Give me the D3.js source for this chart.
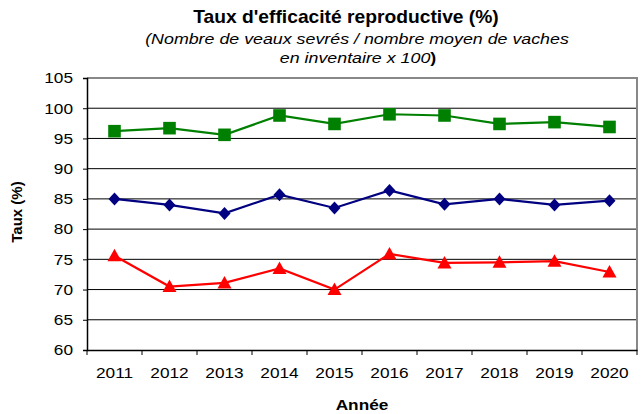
<!DOCTYPE html>
<html>
<head>
<meta charset="utf-8">
<script src="https://cdn.jsdelivr.net/npm/d3@7"></script>
<style>
  body { margin: 0; background: #fff; }
  text { font-family: "Liberation Sans", Arial, sans-serif; }
</style>
</head>
<body>
<script>
const years = ['2011', '2012', '2013', '2014', '2015', '2016', '2017', '2018', '2019', '2020'];
const greenValues = [96.2, 96.7, 95.6, 98.8, 97.4, 99.0, 98.8, 97.4, 97.7, 96.9];
const blueValues = [85.0, 84.0, 82.6, 85.7, 83.5, 86.4, 84.1, 85.0, 84.0, 84.7];
const redValues = [75.6, 70.5, 71.1, 73.5, 70.0, 75.9, 74.4, 74.5, 74.7, 72.9];
const yTicks = [60, 65, 70, 75, 80, 85, 90, 95, 100, 105];

const margin = { top: 78, right: 5, bottom: 64, left: 87 };
const outerWidth = 642;
const outerHeight = 414;
const innerWidth = outerWidth - margin.left - margin.right;
const innerHeight = outerHeight - margin.top - margin.bottom;
const stretch = 1.15; // the original text is a bit wider than plain Arial

// marker shapes (square, flat diamond, triangle)
const squareShape = { draw(ctx) { ctx.rect(-6.3, -6.3, 12.6, 12.6); } };
const diamondShape = { draw(ctx) {
  ctx.moveTo(0, -6.5); ctx.lineTo(6, 0); ctx.lineTo(0, 6.5); ctx.lineTo(-6, 0); ctx.closePath();
} };
const triangleShape = { draw(ctx) {
  ctx.moveTo(0, -7); ctx.lineTo(7, 5.5); ctx.lineTo(-7, 5.5); ctx.closePath();
} };

const series = [
  { values: greenValues, color: '#008000', shape: squareShape },
  { values: blueValues, color: '#000080', shape: diamondShape },
  { values: redValues, color: '#ff0000', shape: triangleShape }
];

const svg = d3.select('body').append('svg')
    .attr('width', outerWidth)
    .attr('height', outerHeight);

// titles
svg.append('text')
    .attr('transform', 'translate(346,23) scale(1.1,1)')
    .attr('text-anchor', 'middle')
    .style('font-size', '17.5px').style('font-weight', 'bold')
    .text("Taux d'efficacité reproductive (%)");
svg.append('text')
    .attr('transform', `translate(357,44) scale(${stretch},1)`)
    .attr('text-anchor', 'middle')
    .style('font-size', '15.5px').style('font-style', 'italic')
    .text('(Nombre de veaux sevrés / nombre moyen de vaches');
const sub2 = svg.append('text')
    .attr('transform', `translate(358,63) scale(${stretch},1)`)
    .attr('text-anchor', 'middle')
    .style('font-size', '15.5px');
sub2.append('tspan').style('font-style', 'italic').text('en inventaire x 100');
sub2.append('tspan').style('font-weight', 'bold').text(')');

const g = svg.append('g')
    .attr('transform', `translate(${margin.left},${margin.top})`);

// scales
const xScale = d3.scaleBand()
    .domain(years)
    .range([0, innerWidth]);
const yScale = d3.scaleLinear()
    .domain([60, 105])
    .range([innerHeight, 0]);

// grid lines
g.selectAll('.grid')
    .data(yTicks.filter(t => t > 60 && t < 105))
    .enter()
  .append('line')
    .attr('class', 'grid')
    .attr('x1', 0).attr('x2', innerWidth)
    .attr('y1', d => yScale(d)).attr('y2', d => yScale(d))
    .attr('stroke', '#000')
    .attr('stroke-width', 1);

// gray border top/right
g.append('path')
    .attr('d', `M0,${yScale(105)}H${innerWidth}V${innerHeight}`)
    .attr('fill', 'none')
    .attr('stroke', '#888')
    .attr('stroke-width', 2);

// y axis
const yAxis = d3.axisLeft(yScale)
    .tickValues(yTicks)
    .tickSize(4);
g.append('g')
    .call(yAxis)
    .call(a => a.selectAll('text')
      .style('font-size', '15px').attr('fill', '#000')
      .attr('x', -14 / stretch)
      .attr('transform', `scale(${stretch},1)`))
    .call(a => a.select('.domain').attr('stroke-width', 1.5));

// x axis, ticks at band edges
const xAxis = d3.axisBottom(xScale)
    .tickSize(0)
    .tickPadding(17);
const xg = g.append('g')
    .attr('transform', `translate(0,${innerHeight})`)
    .call(xAxis);
xg.selectAll('text')
    .style('font-size', '15px').attr('fill', '#000')
    .attr('transform', `scale(${stretch},1)`);
xg.select('.domain').attr('stroke-width', 1.5);
xg.selectAll('.edge')
    .data(years.concat(['end']))
    .enter()
  .append('line')
    .attr('class', 'edge')
    .attr('x1', (d, i) => i * xScale.bandwidth())
    .attr('x2', (d, i) => i * xScale.bandwidth())
    .attr('y1', 0).attr('y2', 5)
    .attr('stroke', '#000');

// axis labels
svg.append('text')
    .attr('transform', `translate(22,${margin.top + innerHeight / 2 - 2}) rotate(-90)`)
    .attr('text-anchor', 'middle')
    .style('font-size', '15px').style('font-weight', 'bold')
    .text('Taux (%)');
svg.append('text')
    .attr('transform', `translate(${margin.left + innerWidth / 2},410) scale(${stretch},1)`)
    .attr('text-anchor', 'middle')
    .style('font-size', '15px').style('font-weight', 'bold')
    .text('Année');

// lines and markers
const line = d3.line()
    .x((d, i) => xScale(years[i]) + xScale.bandwidth() / 2)
    .y(d => yScale(d));

series.forEach(s => {
  g.append('path')
      .datum(s.values)
      .attr('d', line)
      .attr('fill', 'none')
      .attr('stroke', s.color)
      .attr('stroke-width', 2.2);
  g.selectAll(null)
      .data(s.values)
      .enter()
    .append('path')
      .attr('d', d3.symbol().type(s.shape))
      .attr('transform', (d, i) => `translate(${xScale(years[i]) + xScale.bandwidth() / 2},${yScale(d)})`)
      .attr('fill', s.color);
});
</script>
</body>
</html>
